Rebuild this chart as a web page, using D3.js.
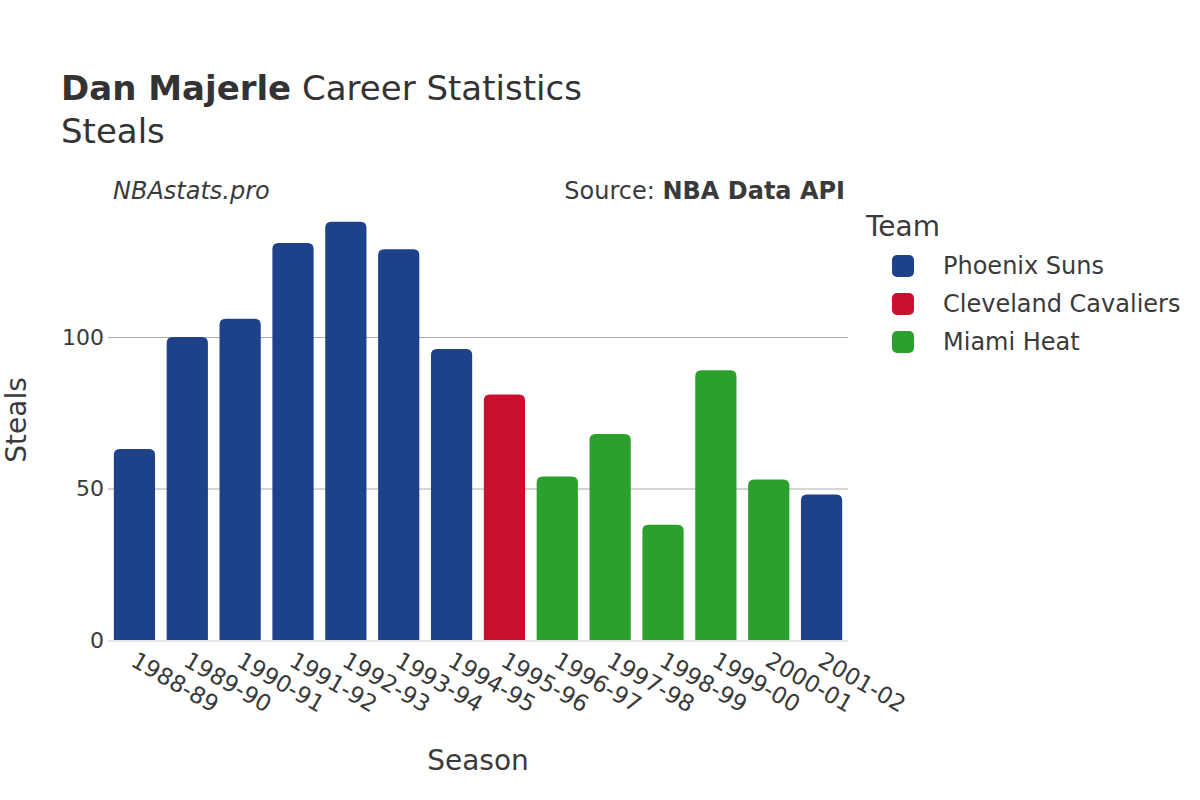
<!DOCTYPE html>
<html><head><meta charset="utf-8">
<script src="https://cdn.jsdelivr.net/npm/d3@7"></script>
<style>body{margin:0;background:#fff}svg{font-family:"DejaVu Sans",sans-serif}</style>
</head><body>
<svg id="c" width="1200" height="800"></svg>
<script>
const seasons = ["1988-89","1989-90","1990-91","1991-92","1992-93","1993-94","1994-95","1995-96","1996-97","1997-98","1998-99","1999-00","2000-01","2001-02"];
const steals = [63,100,106,131,138,129,96,81,54,68,38,89,53,48];
const teams = ["Phoenix Suns","Phoenix Suns","Phoenix Suns","Phoenix Suns","Phoenix Suns","Phoenix Suns","Phoenix Suns","Cleveland Cavaliers","Miami Heat","Miami Heat","Miami Heat","Miami Heat","Miami Heat","Phoenix Suns"];
const teamNames = ["Phoenix Suns","Cleveland Cavaliers","Miami Heat"];
const teamColors = ["#1d428a","#c8102e","#2ca02c"];
const yTicks = [0,50,100];

const svg = d3.select("#c");
const L = 108, R = 848, B = 640, T = 180;
const x = d3.scaleBand().domain(seasons).range([L,R]).paddingInner(0.22).paddingOuter(0.11);
const y = d3.scaleLinear().domain([0,50]).range([B,488.5]);
const color = d3.scaleOrdinal().domain(teamNames).range(teamColors);
const txt = "#3a3a3a";

// gridlines
const yAxis = d3.axisLeft(y).tickValues(yTicks).tickSize(-(R-L)).tickPadding(6);
const ga = svg.append("g").attr("transform",`translate(${L},0)`).call(yAxis);
ga.select(".domain").remove();
ga.selectAll(".tick line").attr("stroke", d=>d===0?"none":"#aaa").attr("stroke-width",1);
ga.selectAll(".tick text").attr("font-size",22).attr("fill",txt).attr("font-family","DejaVu Sans").attr("x",-4);

// bars with rounded tops
const r = 6;
svg.append("g").selectAll("path").data(seasons).join("path")
  .attr("fill",(d,i)=>color(teams[i]))
  .attr("d",(d,i)=>{
    const x0 = x(d), w = x.bandwidth(), y0 = y(steals[i]);
    return `M${x0},${B}V${y0+r}Q${x0},${y0} ${x0+r},${y0}H${x0+w-r}Q${x0+w},${y0} ${x0+w},${y0+r}V${B}Z`;
  });

// zero line
svg.append("line").attr("x1",L).attr("x2",R).attr("y1",B+1).attr("y2",B+1).attr("stroke","#e6e6e6").attr("stroke-width",2);

// x axis labels
const xAxis = d3.axisBottom(x).tickSize(0).tickPadding(0);
const gx = svg.append("g").attr("transform",`translate(0,${B})`).call(xAxis);
gx.select(".domain").remove();
gx.selectAll(".tick text").attr("font-size",23).attr("fill",txt).attr("font-family","DejaVu Sans")
  .attr("text-anchor","start").attr("dy",0).attr("y",0)
  .attr("transform","translate(-5,25) rotate(30)");

// titles
const t = svg.append("text").attr("x",61).attr("y",100).attr("font-size",34).attr("fill","#333");
t.append("tspan").attr("font-weight","bold").text("Dan Majerle");
t.append("tspan").text(" Career Statistics");
svg.append("text").attr("x",61).attr("y",143).attr("font-size",34).attr("fill","#333").text("Steals");
svg.append("text").attr("x",113).attr("y",199).attr("font-size",24).attr("font-style","italic").attr("fill",txt).text("NBAstats.pro");
const s = svg.append("text").attr("x",845).attr("y",199).attr("font-size",24).attr("text-anchor","end").attr("fill",txt);
s.append("tspan").text("Source: ");
s.append("tspan").attr("font-weight","bold").text("NBA Data API");

svg.append("text").attr("x",478).attr("y",770).attr("font-size",28).attr("text-anchor","middle").attr("fill",txt).text("Season");
svg.append("text").attr("transform","translate(26,420) rotate(-90)").attr("font-size",28).attr("text-anchor","middle").attr("fill",txt).text("Steals");

// legend
svg.append("text").attr("x",866).attr("y",236).attr("font-size",28).attr("fill",txt).text("Team");
const lg = svg.append("g").selectAll("g").data(teamNames).join("g")
  .attr("transform",(d,i)=>`translate(892,${266+i*38})`);
lg.append("rect").attr("x",0).attr("y",-11).attr("width",22).attr("height",22).attr("rx",5).attr("fill",d=>color(d));
lg.append("text").attr("x",51).attr("y",8).attr("font-size",24).attr("fill",txt).text(d=>d);
</script>
</body></html>
